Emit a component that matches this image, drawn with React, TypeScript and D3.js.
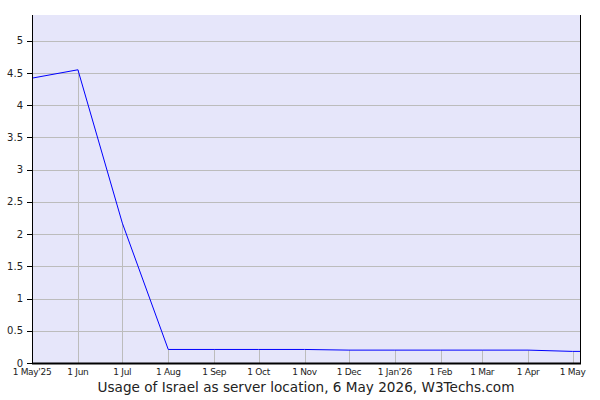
import React, { useEffect, useRef } from 'react';
import * as d3 from 'd3';

// monthly readings, % of websites
const dates = [
  '2025-05-01', '2025-06-01', '2025-07-01', '2025-08-01', '2025-09-01',
  '2025-10-01', '2025-11-01', '2025-12-01', '2026-01-01', '2026-02-01',
  '2026-03-01', '2026-04-01', '2026-05-01', '2026-05-06',
];
const values = [4.42, 4.55, 2.17, 0.21, 0.21, 0.21, 0.21, 0.2, 0.2, 0.2, 0.2, 0.2, 0.18, 0.18];
const yTicks = [0, 0.5, 1, 1.5, 2, 2.5, 3, 3.5, 4, 4.5, 5];
const xTickLabels = [
  "1 May'25", '1 Jun', '1 Jul', '1 Aug', '1 Sep', '1 Oct', '1 Nov',
  '1 Dec', "1 Jan'26", '1 Feb', '1 Mar', '1 Apr', '1 May',
];
const title = 'Usage of Israel as server location, 6 May 2026, W3Techs.com';

const parse = d3.timeParse('%Y-%m-%d');

export default function App() {
  const svgRef = useRef<SVGSVGElement>(null);

  useEffect(() => {
    if (!svgRef.current) return;
    const root = d3.select(svgRef.current);
    root.selectAll('*').remove();

    const W = 600;
    const H = 400;
    const margin = { top: 15, right: 20, bottom: 37, left: 32 };
    const width = W - margin.left - margin.right;
    const height = H - margin.top - margin.bottom;

    const data = dates.map((d, i) => ({ date: parse(d) as Date, value: values[i] }));
    const monthly = data.slice(0, xTickLabels.length);

    const x = d3
      .scaleTime()
      .domain([data[0].date, data[data.length - 1].date])
      .range([0, width]);
    const y = d3.scaleLinear().domain([0, 5.4]).range([height, 0]);

    const g = root
      .append('g')
      .attr('transform', `translate(${margin.left},${margin.top})`);

    g.append('rect')
      .attr('width', width)
      .attr('height', height)
      .attr('fill', '#e6e6fa');

    // horizontal grid
    g.selectAll('.hgrid')
      .data(yTicks.filter(t => t > 0))
      .enter()
      .append('line')
      .attr('x1', 0)
      .attr('x2', width)
      .attr('y1', d => Math.round(y(d)) + 0.5)
      .attr('y2', d => Math.round(y(d)) + 0.5)
      .attr('stroke', '#bcbcbc')
      .attr('stroke-width', 1);

    // drop lines under each monthly point
    g.selectAll('.drop')
      .data(monthly.slice(1))
      .enter()
      .append('line')
      .attr('x1', d => Math.round(x(d.date)) + 0.5)
      .attr('x2', d => Math.round(x(d.date)) + 0.5)
      .attr('y1', height)
      .attr('y2', d => y(d.value))
      .attr('stroke', '#bcbcbc')
      .attr('stroke-width', 1);

    const line = d3
      .line<typeof data[0]>()
      .x(d => x(d.date))
      .y(d => y(d.value));

    g.append('path')
      .datum(data)
      .attr('fill', 'none')
      .attr('stroke', '#0000ff')
      .attr('stroke-width', 1)
      .attr('d', line);

    // axes frame
    g.append('line')
      .attr('x1', 0.5).attr('x2', 0.5)
      .attr('y1', 0).attr('y2', height)
      .attr('stroke', '#000');
    g.append('line')
      .attr('x1', width + 0.5).attr('x2', width + 0.5)
      .attr('y1', 0).attr('y2', height)
      .attr('stroke', '#000');
    g.append('line')
      .attr('x1', 0).attr('x2', width + 1)
      .attr('y1', height + 0.5).attr('y2', height + 0.5)
      .attr('stroke', '#000')
      .attr('stroke-width', 2);

    // y ticks and labels
    const yt = g.selectAll('.ytick').data(yTicks).enter().append('g');
    yt.append('line')
      .attr('x1', -5)
      .attr('x2', 0)
      .attr('y1', d => Math.round(y(d)) + 0.5)
      .attr('y2', d => Math.round(y(d)) + 0.5)
      .attr('stroke', '#000');
    yt.append('text')
      .attr('x', -9)
      .attr('y', d => y(d))
      .attr('dy', '0.35em')
      .attr('text-anchor', 'end')
      .attr('font-family', 'DejaVu Sans, Verdana, sans-serif')
      .attr('font-size', 10)
      .attr('fill', '#222')
      .text(d => String(d));

    // x labels
    g.selectAll('.xlabel')
      .data(monthly)
      .enter()
      .append('text')
      .attr('x', d => x(d.date))
      .attr('y', height + 12)
      .attr('text-anchor', 'middle')
      .attr('font-family', 'DejaVu Sans, Verdana, sans-serif')
      .attr('font-size', 9)
      .attr('letter-spacing', -0.3)
      .attr('fill', '#222')
      .text((d, i) => xTickLabels[i]);

    root.append('text')
      .attr('x', margin.left + width / 2)
      .attr('y', 392)
      .attr('text-anchor', 'middle')
      .attr('font-family', 'DejaVu Sans, Verdana, sans-serif')
      .attr('font-size', 13.6)
      .attr('fill', '#222')
      .text(title);
  }, []);

  return (
    <svg
      ref={svgRef}
      width={600}
      height={400}
      style={{ position: 'absolute', left: 0, top: 0, background: '#fff' }}
    />
  );
}
